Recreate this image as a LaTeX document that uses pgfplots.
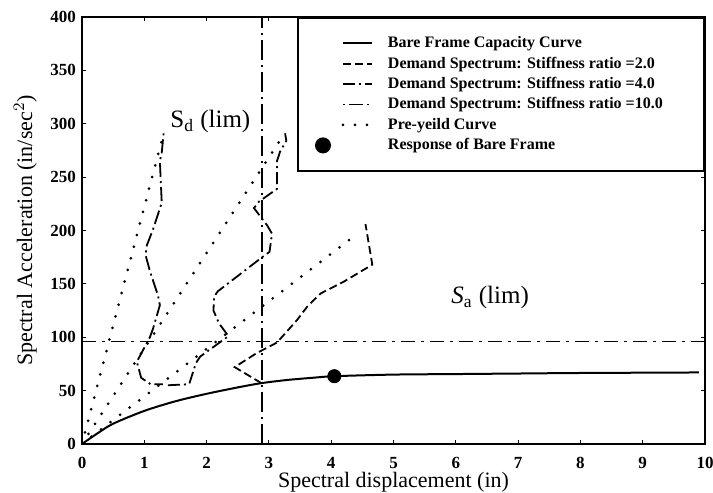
\documentclass[border=0pt]{standalone}
\usepackage{fontspec}
\setmainfont{Liberation Serif}
\usepackage{pgfplots}
\pgfplotsset{compat=1.18}
\usetikzlibrary{calc}
\begin{document}
\begin{tikzpicture}
\begin{axis}[
  name=ax,
  scale only axis,
  width=311.5pt, height=213.5pt,
  xmin=0, xmax=10, ymin=0, ymax=400,
  xtick={0,1,...,10}, ytick={0,50,...,400},
  axis line style={line width=1pt},
  tick style={black, line width=0.5pt},
  major tick length=2pt,
  tick align=inside,
  /pgf/number format/assume math mode=true,
  ticklabel style={font=\bfseries\fontsize{8.5}{9}\selectfont},
  yticklabel style={xshift=0.5pt},
  xticklabel style={yshift=-3pt},
  xlabel={Spectral displacement (in)},
  ylabel={Spectral Acceleration (in/sec$^{2}$)},
  label style={font=\fontsize{11}{12}\selectfont},
  xlabel style={yshift=5pt},
  ylabel style={yshift=0pt},
  legend style={at={(1,1)}, anchor=north east, draw=black, line width=1pt,
    font=\bfseries\fontsize{8}{9}\selectfont,
    inner xsep=2pt, inner ysep=7.6pt, row sep=0pt, column sep=0pt,
    nodes={inner xsep=0pt, inner ysep=1.35pt, text height=5.9pt, text depth=1.6pt}},
  legend cell align=left,
  legend image code/.code={\path[use as bounding box, draw=none, fill=none] (0pt,-1pt) rectangle (43pt,1pt); \draw[#1] (20.5pt,0pt) -- (35pt,0pt);},
]
% Bare frame capacity curve
\addplot[black, line width=1pt, smooth] coordinates {
(0,0) (0.25,10) (0.5,19) (1,31) (1.5,40) (2,47) (2.5,53) (2.88,57) (3.3,60) (3.7,62) (4.05,63.5) (5,65) (6,65.5) (7,66) (8,66.5) (9.9,67)};
\addlegendentry{\makebox[156pt][l]{Bare Frame Capacity Curve}}
% Ratio 2.0 (dashed)
\addplot[black, line width=0.9pt, dash pattern=on 4pt off 2pt] coordinates {
(2.88,57) (2.45,72) (2.8,85) (3.13,95) (3.45,116) (3.62,129) (3.83,141) (4.2,152) (4.66,168) (4.55,206)};
\addlegendentry{Demand Spectrum: Stiffness ratio =2.0}
% Ratio 4.0 (dash dot)
\addplot[black, line width=0.9pt, dash pattern=on 6pt off 2pt on 1pt off 2pt] coordinates {
(1.38,55) (1.72,56) (1.83,76) (1.9,82) (2.35,101) (2.2,113) (2.11,125) (2.12,138) (2.18,143) (2.87,174) (3.01,180) (3.05,197) (2.97,205) (2.76,221) (2.84,227) (3.13,239) (3.13,265) (3.18,274) (3.28,284) (3.26,291)};
\addlegendentry{Demand Spectrum: Stiffness ratio =4.0}
% Ratio 10.0 (dot dash)
\addplot[black, line width=0.9pt, dash pattern=on 1pt off 2pt on 7pt off 2pt] coordinates {
(1.31,291) (1.28,273) (1.25,265) (1.28,226) (1.14,201) (1.04,186) (1.02,177) (1.09,162) (1.22,139) (1.25,130) (1.14,108) (1.09,100) (0.88,77) (0.95,62) (1.1,56) (1.3,56)};
\addlegendentry{Demand Spectrum: Stiffness ratio =10.0}
% Pre-yield curves (dotted)
\addplot[black, line width=1.5pt, line cap=round, dash pattern=on 0pt off 6pt] coordinates {(0,0) (1.31,291)};
\addlegendentry{Pre-yeild Curve}
\addplot[black, line width=1.5pt, line cap=round, dash pattern=on 0pt off 6pt, forget plot] coordinates {(0,0) (3.24,290)};
\addplot[black, line width=1.5pt, line cap=round, dash pattern=on 0pt off 6pt, forget plot] coordinates {(0,0) (4.42,197)};
% Response of bare frame
\addplot[only marks, mark=*, mark size=3.3pt, black,
  legend image code/.code={\path[use as bounding box, draw=none, fill=none] (0pt,-1pt) rectangle (43pt,1pt); \fill[black] (10.5pt,0pt) circle (3.5pt);}] coordinates {(4.05,63.5)};
\addlegendentry{Response of Bare Frame}
% Limits
\addplot[black, line width=0.9pt, dash pattern=on 10pt off 2.5pt on 1pt off 2.5pt, forget plot] coordinates {(2.89,0) (2.89,400)};
\addplot[black, line width=0.9pt, dash pattern=on 7pt off 3pt on 1.5pt off 3pt, forget plot] coordinates {(0,96) (10,96)};
\node[font=\fontsize{12.5}{13}\selectfont] at (axis cs:2.06,302) {S\textsubscript{d} (lim)};
\node[font=\fontsize{12.5}{13}\selectfont] at (axis cs:6.55,137) {\textit{S}\textsubscript{a} (lim)};
\end{axis}
\pgfresetboundingbox
\path ($(ax.south west)+(-41pt,-24.5pt)$) rectangle ($(ax.north east)+(4pt,8.5pt)$);
\end{tikzpicture}
\end{document}
